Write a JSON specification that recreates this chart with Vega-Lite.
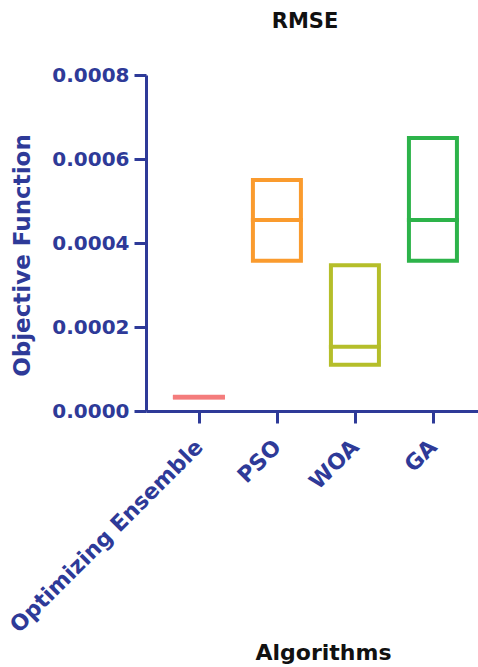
{
  "$schema": "https://vega.github.io/schema/vega-lite/v6.json",
  "autosize": "none",
  "width": 332,
  "height": 336,
  "padding": {"left": 146, "top": 75, "right": 0, "bottom": 256},
  "background": "white",
  "title": {
    "text": "RMSE",
    "font": "DejaVu Sans",
    "fontWeight": "bold",
    "fontSize": 21,
    "color": "#111111",
    "anchor": "middle",
    "dx": -7,
    "offset": 33
  },
  "data": {
    "values": [
      {"alg": "Optimizing Ensemble", "lo": 0.000032, "med": 0.000033, "hi": 0.000034},
      {"alg": "PSO", "lo": 0.000358, "med": 0.000455, "hi": 0.00055},
      {"alg": "WOA", "lo": 0.00011, "med": 0.000153, "hi": 0.000347},
      {"alg": "GA", "lo": 0.000358, "med": 0.000455, "hi": 0.00065}
    ]
  },
  "encoding": {
    "x": {
      "field": "alg",
      "type": "nominal",
      "sort": ["Optimizing Ensemble", "PSO", "WOA", "GA"],
      "scale": {"type": "point", "padding": 0.628, "align": 0.54},
      "axis": {
        "title": "Algorithms",
        "titleFont": "DejaVu Sans",
        "titleFontWeight": "bold",
        "titleFontSize": 22,
        "titleColor": "#111111",
        "titleX": 177,
        "titleY": 231,
        "titleBaseline": "top",
        "labelAngle": -45,
        "labelAlign": "right",
        "labelBaseline": "middle",
        "labelFont": "DejaVu Sans",
        "labelFontWeight": "bold",
        "labelFontSize": 22,
        "labelLimit": 0,
        "labelColor": "#2E3A98",
        "labelPadding": 20,
        "domainColor": "#2E3A98",
        "domainWidth": 3,
        "tickColor": "#2E3A98",
        "tickWidth": 3,
        "tickSize": 12,
        "grid": false
      }
    },
    "color": {
      "field": "alg",
      "type": "nominal",
      "scale": {
        "domain": ["Optimizing Ensemble", "PSO", "WOA", "GA"],
        "range": ["#F47C7C", "#FA9B2E", "#B5BE2A", "#2DB34A"]
      },
      "legend": null
    }
  },
  "layer": [
    {
      "mark": {"type": "bar", "width": 48, "fill": null, "fillOpacity": 0, "strokeWidth": 4},
      "encoding": {
        "y": {
          "field": "lo",
          "type": "quantitative",
          "scale": {"domain": [0, 0.0008], "nice": false},
          "axis": {
            "title": "Objective Function",
            "titleFont": "DejaVu Sans",
            "titleFontWeight": "bold",
            "titleFontSize": 23,
            "titleColor": "#2E3A98",
            "titlePadding": 17,
            "titleY": 180,
            "values": [0, 0.0002, 0.0004, 0.0006, 0.0008],
            "format": ".4f",
            "labelFont": "DejaVu Sans",
            "labelFontWeight": "bold",
            "labelFontSize": 20,
            "labelColor": "#2E3A98",
            "labelPadding": 5,
            "domainColor": "#2E3A98",
            "domainWidth": 3,
            "tickColor": "#2E3A98",
            "tickWidth": 3,
            "tickSize": 12,
            "grid": false
          }
        },
        "y2": {"field": "hi"},
        "stroke": {
          "field": "alg",
          "type": "nominal",
          "scale": {
            "domain": ["Optimizing Ensemble", "PSO", "WOA", "GA"],
            "range": ["#F47C7C", "#FA9B2E", "#B5BE2A", "#2DB34A"]
          },
          "legend": null
        }
      }
    },
    {
      "mark": {"type": "tick", "size": 52, "thickness": 4, "opacity": 1},
      "encoding": {
        "y": {"field": "med", "type": "quantitative"}
      }
    }
  ],
  "config": {"view": {"stroke": null}}
}
